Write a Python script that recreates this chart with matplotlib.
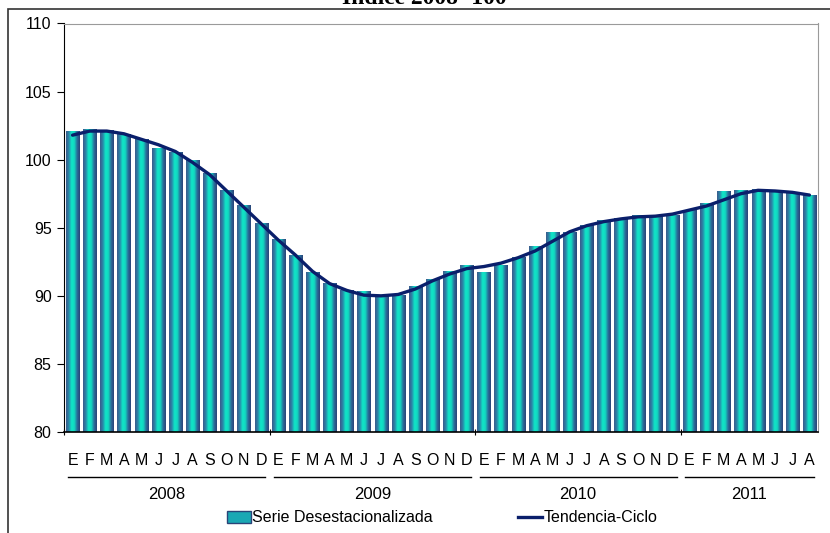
import numpy as np
import matplotlib
matplotlib.use("Agg")
import matplotlib.pyplot as plt
from matplotlib.colors import LinearSegmentedColormap
from matplotlib.patches import Patch, Rectangle
from matplotlib.lines import Line2D
import matplotlib.transforms as mtransforms

months = ["E", "F", "M", "A", "M", "J", "J", "A", "S", "O", "N", "D"] * 3 + \
         ["E", "F", "M", "A", "M", "J", "J", "A"]
years = ["2008", "2009", "2010", "2011"]
year_counts = [12, 12, 12, 8]

serie = [102.1, 102.25, 102.15, 101.85, 101.45, 100.85, 100.55, 99.95, 99.0, 97.75, 96.65, 95.3,
         94.15, 92.95, 91.7, 90.9, 90.4, 90.3, 90.0, 90.05, 90.65, 91.2, 91.8, 92.2,
         91.7, 92.2, 92.8, 93.6, 94.65, 94.65, 95.2, 95.5, 95.65, 95.9, 95.75, 95.9,
         96.25, 96.8, 97.65, 97.75, 97.8, 97.7, 97.55, 97.4]
tendencia = [101.8, 102.1, 102.1, 101.9, 101.5, 101.1, 100.6, 99.8, 98.9, 97.7, 96.5, 95.3,
             94.1, 93.0, 91.8, 90.9, 90.4, 90.05, 90.0, 90.1, 90.5, 91.1, 91.6, 92.0,
             92.15, 92.4, 92.8, 93.3, 94.0, 94.7, 95.15, 95.45, 95.65, 95.8, 95.85, 96.0,
             96.3, 96.6, 97.05, 97.5, 97.75, 97.7, 97.6, 97.4]

plt.rcParams['font.family'] = ['Liberation Sans', 'DejaVu Sans']

fig = plt.figure(figsize=(8.3, 5.33), dpi=100)
ax = fig.add_axes([64 / 830, 1 - 432 / 533, (818 - 64) / 830, (432 - 23.5) / 533])

x = np.arange(len(serie))
bars = ax.bar(x, serie, width=0.76, color='none', edgecolor='none', zorder=2)

# horizontal shading inside each bar, dark edges and bright centre
cmap = LinearSegmentedColormap.from_list(
    "bar", ["#3b5b8c", "#2a86a8", "#10e6c8", "#12d8c0", "#2a6e9c", "#2a4478"])
grad = np.linspace(0, 1, 64).reshape(1, -1)
for b in bars:
    x0, w, h = b.get_x(), b.get_width(), b.get_height()
    ax.imshow(grad, extent=[x0, x0 + w, 80, h], aspect='auto', cmap=cmap,
              zorder=2, interpolation='bilinear')

ax.plot(x, tendencia, color='#0a1f6b', lw=2.4, zorder=3, solid_capstyle='round')

ax.set_xlim(-0.5, len(serie) - 0.5)
ax.set_ylim(80, 110)
ax.set_yticks(range(80, 111, 5))
ax.tick_params(axis='y', labelsize=11.5, length=5, width=0.8, pad=4, direction='out')

bounds = np.cumsum([0] + year_counts) - 0.5
ax.set_xticks(bounds[:-1])
ax.set_xticklabels([])
ax.tick_params(axis='x', which='major', length=4, width=0.8, direction='inout')
ax.set_xticks(x, minor=True)
ax.set_xticklabels(months, minor=True)
ax.tick_params(axis='x', which='minor', length=0, labelsize=11.5, pad=15)

ax.spines['left'].set_color('black')
ax.spines['bottom'].set_color('black')
ax.spines['bottom'].set_linewidth(1.2)
ax.spines['top'].set_color('#9a9a9a')
ax.spines['right'].set_color('#9a9a9a')

trans = mtransforms.blended_transform_factory(ax.transData, ax.transAxes)
for i, yr in enumerate(years):
    a, b2 = bounds[i], bounds[i + 1]
    ax.plot([a + 0.25, b2 - 0.25], [-0.110, -0.110], color='black', lw=1.0,
            transform=trans, clip_on=False)
    ax.text((a + b2) / 2, -0.153, yr, transform=trans, ha='center', va='center',
            fontsize=12)

handles = [Patch(facecolor='#1aa8b4', edgecolor='#2a4478'),
           Line2D([0], [0], color='#0a1f6b', lw=2.4)]
fig.legend(handles, ["Serie Desestacionalizada", "Tendencia-Ciclo"],
           loc='center', bbox_to_anchor=(442 / 830, 1 - 518 / 533), ncol=2,
           frameon=False, fontsize=11.5, handlelength=1.5, handletextpad=0.1,
           columnspacing=5.3, borderpad=0)

fig.add_artist(Rectangle((8 / 830, -0.1), 1.2, 1 - 9.5 / 533 + 0.1,
                         transform=fig.transFigure, fill=False,
                         edgecolor='#333333', lw=1.2))
# title sits mostly above the canvas, as in the source
fig.text(424 / 830, 1 + 2 / 533, "Índice 2008=100", ha='center', va='center',
         fontsize=17, fontweight='bold', family='Liberation Serif')

fig.savefig("out.png", dpi=100)
